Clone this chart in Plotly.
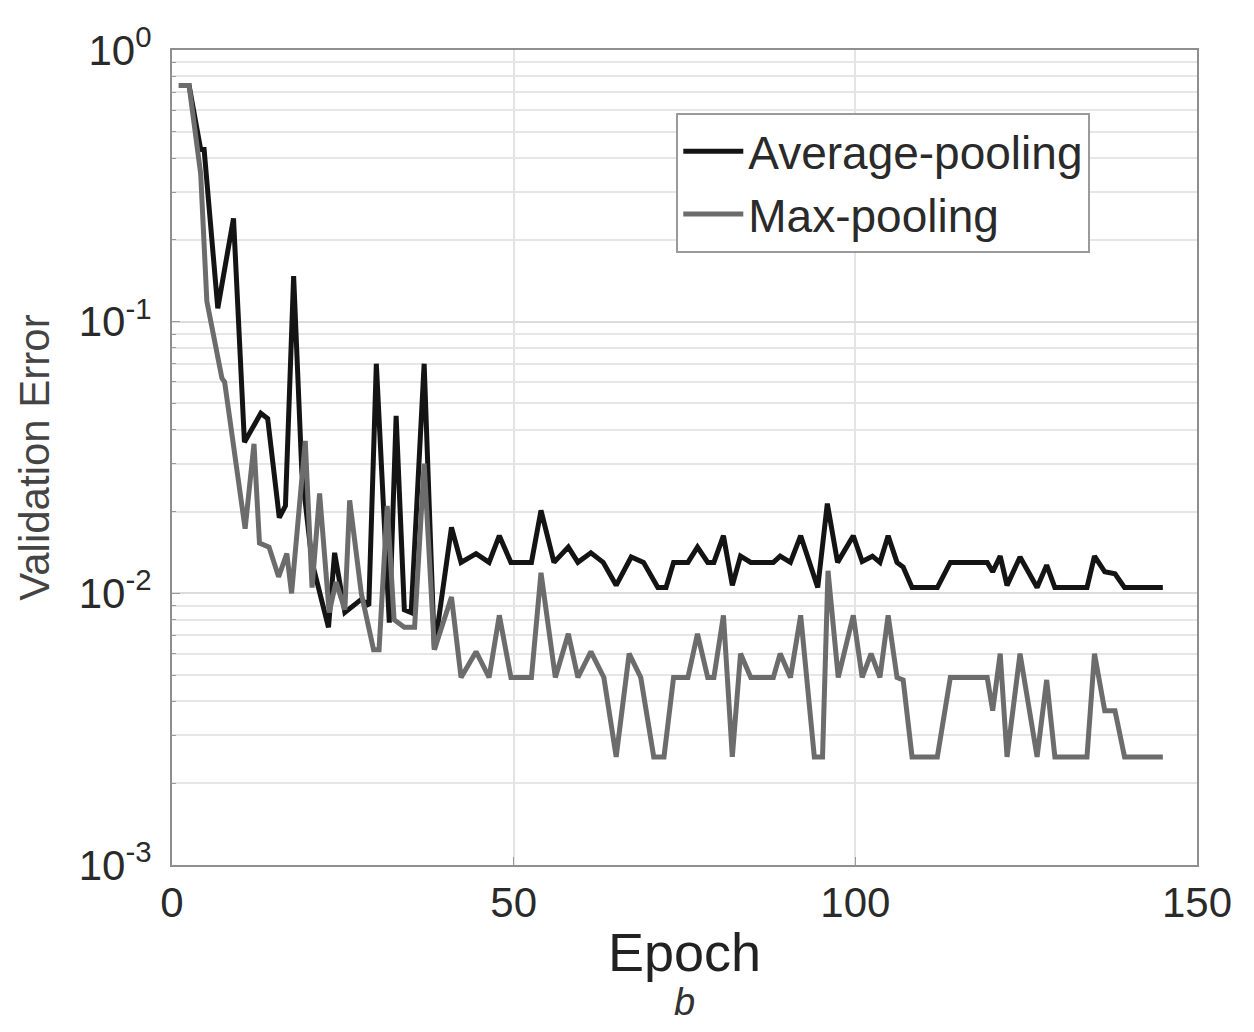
import plotly.graph_objects as go

# Average-pooling (black) vertices: epoch, validation error
avg_epoch = [1, 2.5, 4.2, 4.7, 6.7, 9, 10.6, 13, 14, 15.7, 16.6, 17.8, 19, 20.5, 22.9,
             23.8, 25.3, 27.7, 28.8, 29.9, 31.8, 32.8, 34, 35, 36.9, 38.4, 40.9, 42.3,
             44.5, 46.4, 47.9, 49.6, 52.6, 54, 55.9, 58, 59.4, 61.3, 63.1, 65, 67.2, 69,
             71.1, 72.3, 73.4, 75.5, 76.9, 78.4, 79.3, 80.7, 82, 83.2, 84.7, 88, 89, 90.5,
             92, 94.5, 95.9, 97.4, 99.7, 101, 102.5, 103.6, 104.8, 106.1, 107, 108.3, 112,
             113.9, 119.3, 120.1, 121.2, 122.2, 124.1, 126.6, 128, 129.2, 133.9, 135,
             136.5, 138, 139.4, 145]
avg_err = [0.74, 0.74, 0.43, 0.43, 0.112, 0.24, 0.036, 0.046, 0.044, 0.019, 0.021, 0.147,
           0.028, 0.013, 0.0075, 0.0141, 0.0085, 0.0095, 0.009, 0.070, 0.0078, 0.045,
           0.0087, 0.0085, 0.070, 0.0062, 0.0175, 0.013, 0.014, 0.013, 0.0163, 0.013,
           0.013, 0.0202, 0.013, 0.0148, 0.013, 0.0141, 0.013, 0.0107, 0.0136, 0.013,
           0.0105, 0.0105, 0.013, 0.013, 0.0148, 0.013, 0.013, 0.0163, 0.0107, 0.0137,
           0.013, 0.013, 0.0137, 0.013, 0.0163, 0.0105, 0.0214, 0.013, 0.0163, 0.0131,
           0.0137, 0.013, 0.0163, 0.013, 0.0125, 0.0105, 0.0105, 0.013, 0.013, 0.012,
           0.0137, 0.0107, 0.0136, 0.0105, 0.0127, 0.0105, 0.0105, 0.0137, 0.012, 0.0118,
           0.0105, 0.0105]

# Max-pooling (grey) vertices
max_epoch = [1, 2.5, 4.2, 5.1, 7.3, 7.7, 10.7, 12, 12.8, 14.2, 15.6, 16.8, 17.5, 19.5,
             20.5, 21.6, 23, 24, 25.3, 26, 27.7, 29.5, 30.3, 31.5, 32.5, 34, 35.5, 36.9,
             38.4, 40.9, 42.3, 44.5, 46.4, 47.9, 49.6, 52.6, 54, 56.1, 58, 59.4, 61.3,
             63.2, 65, 66.9, 68.6, 70.5, 72, 73.4, 75.5, 76.9, 78.4, 79.3, 80.7, 82, 83.2,
             84.7, 88, 89, 90.5, 92, 94, 95.2, 96, 97.5, 99.7, 101, 102.3, 103.6, 104.8,
             106.1, 107, 108.3, 112, 113.9, 119.3, 120.1, 121.2, 122.2, 124.1, 126.6, 128,
             129.2, 133.9, 135, 136.5, 138, 139.4, 145]
max_err = [0.74, 0.74, 0.35, 0.119, 0.062, 0.06, 0.0173, 0.0355, 0.0153, 0.0148, 0.0115,
           0.014, 0.01, 0.0364, 0.0105, 0.0233, 0.0085, 0.011, 0.0087, 0.022, 0.01,
           0.0062, 0.0062, 0.021, 0.008, 0.0075, 0.0075, 0.03, 0.0062, 0.0097, 0.0049,
           0.0061, 0.0049, 0.0083, 0.0049, 0.0049, 0.0119, 0.0049, 0.0071, 0.0049, 0.0061,
           0.0049, 0.0025, 0.006, 0.0049, 0.0025, 0.0025, 0.0049, 0.0049, 0.0071, 0.0049,
           0.0049, 0.0083, 0.0025, 0.006, 0.0049, 0.0049, 0.006, 0.0049, 0.0083, 0.0025,
           0.0025, 0.0121, 0.0049, 0.0083, 0.0049, 0.006, 0.0049, 0.0083, 0.0049, 0.0048,
           0.0025, 0.0025, 0.0049, 0.0049, 0.0037, 0.006, 0.0025, 0.006, 0.0025, 0.0048,
           0.0025, 0.0025, 0.006, 0.0037, 0.0037, 0.0025, 0.0025]

x_ticks = [0, 50, 100, 150]
y_ticks = [1e-3, 1e-2, 1e-1, 1]
y_tick_text = ["10<sup>-3</sup>", "10<sup>-2</sup>", "10<sup>-1</sup>", "10<sup>0</sup>"]

FONT = "Liberation Sans, Arial, sans-serif"

fig = go.Figure()
fig.add_trace(go.Scatter(x=avg_epoch, y=avg_err, mode="lines", name="Average-pooling",
                         line=dict(color="#141414", width=5)))
fig.add_trace(go.Scatter(x=max_epoch, y=max_err, mode="lines", name="Max-pooling",
                         line=dict(color="#6c6c6c", width=5)))

fig.update_layout(
    width=1254, height=1032,
    margin=dict(l=164, r=65, t=40, b=175),
    paper_bgcolor="white", plot_bgcolor="white",
    font=dict(family=FONT, color="#333333"),
    showlegend=True,
    legend=dict(x=0.492, y=0.923, xanchor="left", yanchor="top",
                bgcolor="white", bordercolor="#9a9a9a", borderwidth=2,
                font=dict(size=46, color="#2a2a2a"), itemwidth=60,
                tracegroupgap=4),
    xaxis=dict(range=[0, 150], tickvals=x_ticks, ticktext=[str(v) for v in x_ticks],
               showgrid=True, gridcolor="#e4e4e4", gridwidth=1.5,
               showline=True, linecolor="#8f8f8f", linewidth=2, mirror=True,
               ticks="inside", ticklen=8, tickcolor="#9a9a9a",
               tickfont=dict(size=42, color="#2a2a2a"), zeroline=False,
               title=dict(text="Epoch", font=dict(size=54, color="#222222"), standoff=8)),
    yaxis=dict(type="log", range=[-3, 0], tickvals=y_ticks, ticktext=y_tick_text,
               showgrid=True, gridcolor="#dcdcdc", gridwidth=1.5,
               showline=True, linecolor="#8f8f8f", linewidth=2, mirror=True,
               ticks="inside", ticklen=8, tickcolor="#9a9a9a",
               tickfont=dict(size=42, color="#2a2a2a"), zeroline=False,
               ticklabelstandoff=10,
               minor=dict(showgrid=True, gridcolor="#e6e6e6", gridwidth=1.5,
                          dtick="D1", ticks="inside", ticklen=4, tickcolor="#9a9a9a"),
               title=dict(text="Validation Error", font=dict(size=42, color="#444444"),
                          standoff=16)),
)

fig.add_annotation(text="<i>b</i>", xref="paper", yref="paper", x=0.5, y=-0.14,
                   xanchor="center", yanchor="top", showarrow=False,
                   font=dict(size=38, color="#333333", family=FONT))

fig.write_html("out.html")
